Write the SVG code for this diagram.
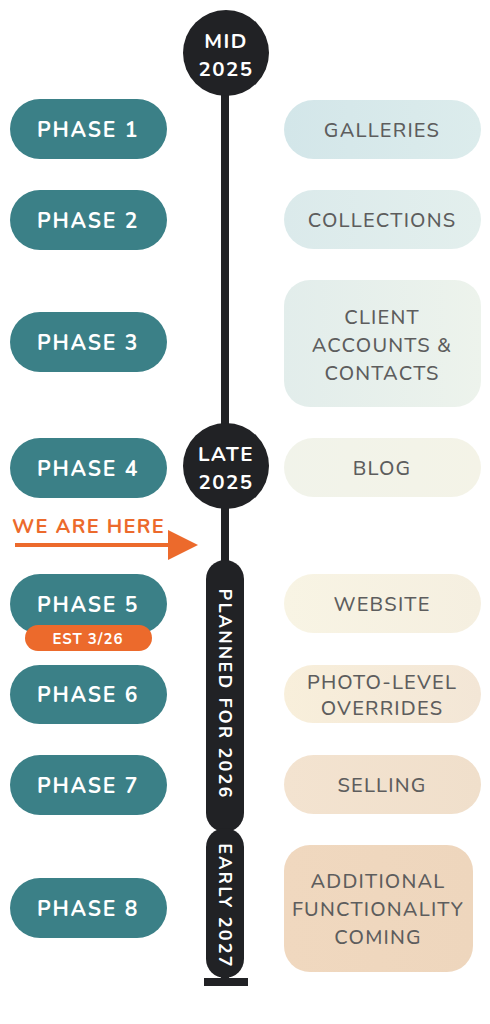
<svg xmlns="http://www.w3.org/2000/svg" width="490" height="1024" viewBox="0 0 490 1024">
<style>
.ph{fill:#3b8087}
.pt{font-family:"Nunito","Lato","Open Sans",sans-serif;font-size:21px;font-weight:700;fill:#ffffff;letter-spacing:1.8px;text-anchor:middle}
.ft{font-family:"Nunito","Lato","Open Sans",sans-serif;font-size:20px;font-weight:500;fill:#5d5d5d;letter-spacing:1.2px;text-anchor:middle}
.dt{font-family:"Nunito","Lato","Open Sans",sans-serif;font-size:20.5px;font-weight:700;fill:#ffffff;letter-spacing:1.5px;text-anchor:middle}
.vt{font-family:"Nunito","Lato","Open Sans",sans-serif;font-size:18px;font-weight:700;fill:#ffffff;letter-spacing:2.2px;text-anchor:middle}
.dark{fill:#212225}
</style>
<defs>
<linearGradient id="g1" x1="0" x2="1"><stop offset="0" stop-color="#d3e6e9"/><stop offset="1" stop-color="#dcecec"/></linearGradient>
<linearGradient id="g2" x1="0" x2="1"><stop offset="0" stop-color="#dbeaeb"/><stop offset="1" stop-color="#e3efed"/></linearGradient>
<linearGradient id="g3" x1="0" x2="1"><stop offset="0" stop-color="#e2edeb"/><stop offset="1" stop-color="#edf3ec"/></linearGradient>
<linearGradient id="g4" x1="0" x2="1"><stop offset="0" stop-color="#f1f3ea"/><stop offset="1" stop-color="#f4f3e7"/></linearGradient>
<linearGradient id="g5" x1="0" x2="1"><stop offset="0" stop-color="#f8f4e4"/><stop offset="1" stop-color="#f5efe0"/></linearGradient>
<linearGradient id="g6" x1="0" x2="1"><stop offset="0" stop-color="#f8efdb"/><stop offset="1" stop-color="#f3e6d6"/></linearGradient>
<linearGradient id="g7" x1="0" x2="1"><stop offset="0" stop-color="#f3e3d0"/><stop offset="1" stop-color="#f0dfcb"/></linearGradient>
<linearGradient id="g8" x1="0" x2="1"><stop offset="0" stop-color="#f0d8bf"/><stop offset="1" stop-color="#eed6bd"/></linearGradient>
</defs>
<rect width="490" height="1024" fill="#ffffff"/>

<g id="connectors">
<rect class="dark" x="221" y="90" width="8" height="340"/>
<rect class="dark" x="221" y="505" width="8" height="60"/>
<rect class="dark" x="204" y="978" width="44" height="8"/>
<rect class="dark" x="221" y="965" width="8" height="16"/>
<line x1="15" y1="545" x2="172" y2="545" stroke="#ec6a2c" stroke-width="4"/>
<polygon points="168,530 198,545 168,560" fill="#ec6a2c"/>
</g>

<g id="mid2025">
<circle class="dark" cx="226" cy="53" r="43"/>
<text class="dt" x="226" y="48">MID</text>
<text class="dt" x="226" y="76">2025</text>
</g>
<g id="late2025">
<circle class="dark" cx="226" cy="466" r="43"/>
<text class="dt" x="226" y="461">LATE</text>
<text class="dt" x="226" y="489">2025</text>
</g>
<g id="planned2026">
<rect class="dark" x="206" y="560" width="38" height="272" rx="19"/>
<text class="vt" transform="translate(218.5,694) rotate(90)">PLANNED FOR 2026</text>
</g>
<g id="early2027">
<rect class="dark" x="206" y="828" width="38" height="150" rx="19"/>
<text class="vt" transform="translate(218.5,906) rotate(90)">EARLY 2027</text>
</g>

<g id="we-are-here">
<text x="12" y="533" font-family="Nunito,Lato,'Open Sans',sans-serif" font-size="20" font-weight="700" fill="#ec6a2c" letter-spacing="1.3">WE ARE HERE</text>
</g>

<g id="phase1"><rect class="ph" x="10" y="99" width="157" height="60" rx="30"/><text class="pt" x="88" y="136.5">PHASE 1</text></g>
<g id="phase2"><rect class="ph" x="10" y="190" width="157" height="60" rx="30"/><text class="pt" x="88" y="227.5">PHASE 2</text></g>
<g id="phase3"><rect class="ph" x="10" y="312" width="157" height="60" rx="30"/><text class="pt" x="88" y="349.5">PHASE 3</text></g>
<g id="phase4"><rect class="ph" x="10" y="438" width="157" height="60" rx="30"/><text class="pt" x="88" y="475.5">PHASE 4</text></g>
<g id="phase5"><rect class="ph" x="10" y="574" width="157" height="60" rx="30"/><text class="pt" x="88" y="611.5">PHASE 5</text>
<rect x="25" y="625" width="127" height="26" rx="13" fill="#ec6a2c"/>
<text x="88" y="644" font-family="Nunito,Lato,'Open Sans',sans-serif" font-size="15" font-weight="700" fill="#ffffff" letter-spacing="1" text-anchor="middle">EST 3/26</text></g>
<g id="phase6"><rect class="ph" x="10" y="665" width="157" height="59" rx="29.5"/><text class="pt" x="88" y="701.5">PHASE 6</text></g>
<g id="phase7"><rect class="ph" x="10" y="755" width="157" height="60" rx="30"/><text class="pt" x="88" y="792.5">PHASE 7</text></g>
<g id="phase8"><rect class="ph" x="10" y="878" width="157" height="60" rx="30"/><text class="pt" x="88" y="915.5">PHASE 8</text></g>

<g id="galleries"><rect x="284" y="100" width="197" height="59" rx="29.5" fill="url(#g1)"/><text class="ft" x="382" y="137">GALLERIES</text></g>
<g id="collections"><rect x="284" y="190" width="197" height="59" rx="29.5" fill="url(#g2)"/><text class="ft" x="382" y="227">COLLECTIONS</text></g>
<g id="client-accounts"><rect x="284" y="280" width="197" height="127" rx="26" fill="url(#g3)"/><text class="ft" x="382" y="324">CLIENT</text><text class="ft" x="382" y="352">ACCOUNTS &amp;</text><text class="ft" x="382" y="380">CONTACTS</text></g>
<g id="blog"><rect x="284" y="438" width="197" height="59" rx="29.5" fill="url(#g4)"/><text class="ft" x="382" y="475">BLOG</text></g>
<g id="website"><rect x="284" y="574" width="197" height="59" rx="29.5" fill="url(#g5)"/><text class="ft" x="382" y="611">WEBSITE</text></g>
<g id="photo-level"><rect x="284" y="665" width="197" height="58" rx="29" fill="url(#g6)"/><text class="ft" x="382" y="689">PHOTO-LEVEL</text><text class="ft" x="382" y="715">OVERRIDES</text></g>
<g id="selling"><rect x="284" y="755" width="197" height="59" rx="29.5" fill="url(#g7)"/><text class="ft" x="382" y="792">SELLING</text></g>
<g id="additional"><rect x="284" y="845" width="189" height="127" rx="26" fill="url(#g8)"/><text class="ft" x="378" y="888">ADDITIONAL</text><text class="ft" x="378" y="916">FUNCTIONALITY</text><text class="ft" x="378" y="944">COMING</text></g>
</svg>
